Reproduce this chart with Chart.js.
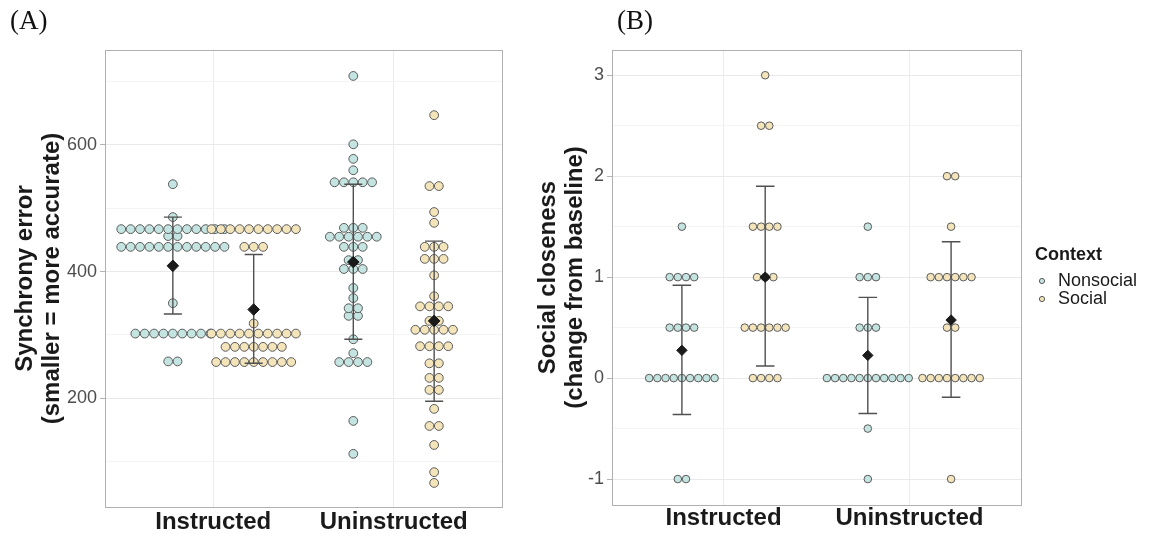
<!DOCTYPE html>
<html>
<head>
<meta charset="utf-8">
<script src="https://cdn.jsdelivr.net/npm/chart.js@4"></script>
<style>
  body { margin: 0; background: #fff; width: 1157px; height: 534px; position: relative; overflow: hidden; }
  canvas { position: absolute; top: 0; }
  #chartA { left: 0; }
  #chartB { left: 510px; }
  .tag { position: absolute; top: 5px; font-family: "Liberation Serif", "Times New Roman", serif; font-size: 27px; color: #111; }
</style>
</head>
<body>
<canvas id="chartA" width="510" height="534"></canvas>
<canvas id="chartB" width="647" height="534"></canvas>
<div class="tag" style="left:10px">(A)</div>
<div class="tag" style="left:617px">(B)</div>
<script>
Chart.defaults.font.family = "'Liberation Sans', Arial, sans-serif";

const categories = ['Instructed', 'Uninstructed'];
const contexts = ['Nonsocial', 'Social'];
const contextColors = ['#c3e4e0', '#f4e4ba'];

// (A) synchrony error, one number per dot (read row by row, top to bottom)
const syncInstrNonsocial = [538, 486,
  467, 467, 467, 467, 467, 467, 467, 467, 467, 467, 467, 467,
  456, 456,
  439, 439, 439, 439, 439, 439, 439, 439, 439, 439, 439, 439,
  350,
  302, 302, 302, 302, 302, 302, 302, 302, 302,
  258, 258];
const syncInstrSocial = [
  467, 467, 467, 467, 467, 467, 467, 467, 467, 467,
  439, 439, 439,
  318,
  302, 302, 302, 302, 302, 302, 302, 302, 302, 302,
  281, 281, 281, 281, 281, 281, 281,
  257, 257, 257, 257, 257, 257, 257, 257, 257];
const syncUninstrNonsocial = [709, 601, 578, 560,
  541, 541, 541, 541, 541,
  469, 469, 469,
  455, 455, 455, 455, 455, 455,
  439, 439, 439,
  418, 418,
  404, 404, 404,
  374, 358, 342, 342, 330, 330, 293, 271,
  257, 257, 257, 257,
  164, 112];
const syncUninstrSocial = [647, 535, 535, 494, 477,
  439, 439, 439,
  420, 420, 420,
  394, 361,
  345, 345, 345, 345,
  322, 322,
  308, 308, 308, 308, 308,
  282, 282, 282, 282,
  255, 255, 232, 232, 213, 213, 183, 156, 156, 126, 83, 66];
// order: instructed nonsocial, instructed social, uninstructed nonsocial, uninstructed social
const syncMeans = [409, 340, 415, 322];
const syncLow = [333, 255, 293, 195];
const syncHigh = [486, 427, 538, 448];
const syncTicks = [200, 400, 600];

// (B) social closeness
const closeInstrNonsocial = [1.5, 1, 1, 1, 1, 0.5, 0.5, 0.5, 0.5, 0, 0, 0, 0, 0, 0, 0, 0, 0, -1, -1];
const closeInstrSocial = [3, 2.5, 2.5, 1.5, 1.5, 1.5, 1.5, 1, 1, 1, 0.5, 0.5, 0.5, 0.5, 0.5, 0.5, 0, 0, 0, 0];
const closeUninstrNonsocial = [1.5, 1, 1, 1, 0.5, 0.5, 0.5, 0, 0, 0, 0, 0, 0, 0, 0, 0, 0, 0, -0.5, -1];
const closeUninstrSocial = [2, 2, 1.5, 1, 1, 1, 1, 1, 1, 0.5, 0.5, 0, 0, 0, 0, 0, 0, 0, 0, -1];
const closeMeans = [0.275, 1.0, 0.225, 0.575];
const closeLow = [-0.36, 0.12, -0.35, -0.19];
const closeHigh = [0.92, 1.90, 0.80, 1.35];
const closeTicks = [-1, 0, 1, 2, 3];

const DODGE = 0.224;

// stack equal values side by side (centred dot plot)
function swarm(values, xCenter, step) {
  const counts = {};
  values.forEach(v => counts[v] = (counts[v] || 0) + 1);
  const pts = [];
  Object.keys(counts).forEach(k => {
    const n = counts[k];
    for (let i = 0; i < n; i++) {
      pts.push({ x: xCenter + (i - (n - 1) / 2) * step, y: Number(k) });
    }
  });
  return pts;
}

function groupX(i) {
  return 1 + Math.floor(i / 2) + (i % 2 ? DODGE : -DODGE);
}

function errorBarPlugin(low, high) {
  return {
    id: 'errbars',
    beforeDatasetDraw(chart, args) {
      if (args.index !== 0) return;
      const ctx = chart.ctx, xs = chart.scales.x, ys = chart.scales.y;
      ctx.save();
      ctx.strokeStyle = '#505050';
      ctx.lineWidth = 1.4;
      for (let i = 0; i < low.length; i++) {
        const cx = xs.getPixelForValue(groupX(i));
        const x0 = xs.getPixelForValue(groupX(i) - 0.05);
        const x1 = xs.getPixelForValue(groupX(i) + 0.05);
        const y0 = ys.getPixelForValue(low[i]);
        const y1 = ys.getPixelForValue(high[i]);
        ctx.beginPath();
        ctx.moveTo(cx, y0); ctx.lineTo(cx, y1);
        ctx.moveTo(x0, y0); ctx.lineTo(x1, y0);
        ctx.moveTo(x0, y1); ctx.lineTo(x1, y1);
        ctx.stroke();
      }
      ctx.restore();
    }
  };
}

const panelBorder = {
  id: 'panelBorder',
  beforeDatasetsDraw(chart) {
    const a = chart.chartArea, ctx = chart.ctx;
    ctx.save();
    ctx.strokeStyle = '#b0b0b0';
    ctx.lineWidth = 1;
    ctx.strokeRect(Math.round(a.left) + 0.5, Math.round(a.top) + 0.5, Math.round(a.right - a.left), Math.round(a.bottom - a.top));
    ctx.restore();
  }
};

function makeConfig(o) {
  const step = o.step;
  return {
    type: 'scatter',
    data: {
      datasets: [{
        label: 'mean',
        data: o.means.map((m, i) => ({ x: groupX(i), y: m })),
        pointStyle: 'rectRot',
        pointRadius: o.meanRadius,
        backgroundColor: '#1a1a1a',
        borderColor: '#1a1a1a',
        borderWidth: 1
      }, {
        label: contexts[1],
        data: swarm(o.series[1], groupX(1), step).concat(swarm(o.series[3], groupX(3), step)),
        pointRadius: o.dotRadius,
        backgroundColor: contextColors[1],
        borderColor: '#5a5a5a',
        borderWidth: 1
      }, {
        label: contexts[0],
        data: swarm(o.series[0], groupX(0), step).concat(swarm(o.series[2], groupX(2), step)),
        pointRadius: o.dotRadius,
        backgroundColor: contextColors[0],
        borderColor: '#5a5a5a',
        borderWidth: 1
      }]
    },
    options: {
      responsive: false,
      animation: false,
      layout: { padding: { top: 50, right: o.padRight, left: 0, bottom: 0 } },
      plugins: { legend: { display: false }, tooltip: { enabled: false } },
      scales: {
        x: {
          type: 'linear',
          min: 0.4,
          max: 2.6,
          afterBuildTicks: s => { s.ticks = [{ value: 1 }, { value: 2 }]; },
          afterFit: s => { s.height = o.xHeight; },
          border: { display: false },
          grid: { color: '#ececec', drawTicks: false },
          ticks: {
            padding: o.xPad,
            color: '#1a1a1a',
            font: { size: 24, weight: 'bold', lineHeight: 1 },
            callback: v => categories[v - 1]
          }
        },
        y: {
          min: o.yMin,
          max: o.yMax,
          afterBuildTicks: s => { s.ticks = o.gridValues.map(v => ({ value: v })); },
          afterFit: s => { s.width = o.yWidth; },
          border: { display: false },
          grid: {
            color: c => o.ticks.includes(c.tick.value) ? '#e9e9e9' : '#f4f4f4',
            tickColor: c => o.ticks.includes(c.tick.value) ? '#b3b3b3' : 'rgba(0,0,0,0)',
            tickLength: 5
          },
          ticks: {
            padding: 3,
            color: '#4d4d4d',
            font: { size: 18 },
            callback: v => o.ticks.includes(v) ? String(v) : ''
          },
          title: {
            display: true,
            text: o.yTitle,
            color: '#1a1a1a',
            font: { size: 24, weight: 'bold', lineHeight: 1.12 },
            padding: { top: o.titlePad, bottom: 0 }
          }
        }
      }
    },
    plugins: [panelBorder, errorBarPlugin(o.low, o.high)].concat(o.extra || [])
  };
}

const legendB = {
  id: 'legendB',
  afterDraw(chart) {
    const ctx = chart.ctx;
    const off = 510;
    ctx.save();
    ctx.textBaseline = 'middle';
    ctx.fillStyle = '#1a1a1a';
    ctx.font = "bold 18px 'Liberation Sans', Arial, sans-serif";
    ctx.fillText('Context', 1035 - off, 255);
    ctx.font = "18px 'Liberation Sans', Arial, sans-serif";
    contexts.forEach((name, i) => {
      const y = 281 + i * 18;
      ctx.beginPath();
      ctx.arc(1042 - off, y, 2.6, 0, Math.PI * 2);
      ctx.fillStyle = contextColors[i];
      ctx.fill();
      ctx.strokeStyle = '#5a5a5a';
      ctx.lineWidth = 1;
      ctx.stroke();
      ctx.fillStyle = '#1a1a1a';
      ctx.fillText(name, 1058 - off, y);
    });
    ctx.restore();
  }
};

const chartA = new Chart(document.getElementById('chartA'), makeConfig({
  series: [syncInstrNonsocial, syncInstrSocial, syncUninstrNonsocial, syncUninstrSocial],
  means: syncMeans, low: syncLow, high: syncHigh,
  ticks: syncTicks,
  gridValues: [100, 200, 300, 400, 500, 600, 700],
  yMin: 28, yMax: 750,
  yTitle: ['Synchrony error', '(smaller = more accurate)'],
  titlePad: 12,
  yWidth: 105, xHeight: 27, xPad: 3, padRight: 8,
  step: 0.052, dotRadius: 4.4, meanRadius: 5.8
}));

const chartB = new Chart(document.getElementById('chartB'), makeConfig({
  series: [closeInstrNonsocial, closeInstrSocial, closeUninstrNonsocial, closeUninstrSocial],
  means: closeMeans, low: closeLow, high: closeHigh,
  ticks: closeTicks,
  gridValues: [-1, -0.5, 0, 0.5, 1, 1.5, 2, 2.5, 3],
  yMin: -1.257, yMax: 3.25,
  yTitle: ['Social closeness', '(change from baseline)'],
  titlePad: 25,
  yWidth: 102, xHeight: 29, xPad: 1, padRight: 136,
  step: 0.044, dotRadius: 3.8, meanRadius: 5.2,
  extra: [legendB]
}));
</script>
</body>
</html>
